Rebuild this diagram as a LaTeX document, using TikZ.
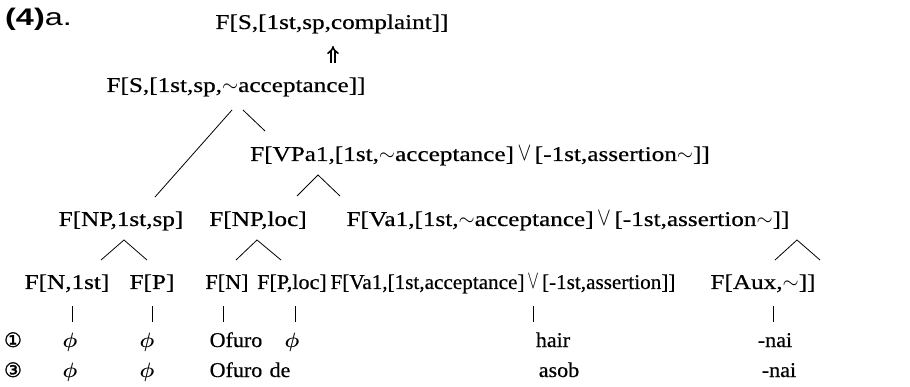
\documentclass[tikz,border=0pt]{standalone}
\usepackage{fontspec}
\usepackage{graphicx}
\setmainfont{Liberation Serif}[FakeStretch=1.2, FakeBold=0.5]
\newfontfamily\wordfont{Liberation Serif}[FakeStretch=1.05, FakeBold=0.5]
\newfontfamily\exfont{Liberation Sans}
\newfontfamily\circfont{DejaVu Sans}[FakeBold=1.5]
\usetikzlibrary{calc,arrows.meta}

% feature notation helpers
\newcommand{\feattilde}{$\sim$}
\newcommand{\featvee}{\,\scalebox{1}[1.25]{$\vee$}\,}
\newcommand{\phisym}{{\boldmath$\phi$}}

\tikzset{
  cat/.style={anchor=base, inner sep=0pt, font=\fontsize{21}{25}\selectfont},
  word/.style={anchor=base, inner sep=0pt, font=\wordfont\fontsize{21}{25}\selectfont},
  circnum/.style={anchor=base, inner sep=0pt, font=\circfont\fontsize{20}{22}\selectfont},
  exlabel/.style={anchor=base west, inner sep=0pt, font=\exfont\fontsize{24}{28}\selectfont},
  branch/.style={line width=0.8pt},
  implication/.style={double, double distance=2.2pt, line width=1.6pt, -{Implies}},
}

\begin{document}
\begin{tikzpicture}[x=1pt,y=-1pt]
\useasboundingbox (0,0) rectangle (910,387);

% example number
\node[exlabel] (ex) at (5,26) {\scalebox{1.35}[1]{\textbf{(4)}a.}};

% categories
\node[cat] (comp)  at (332,29)  {F[S,[1st,sp,complaint]]};
\node[cat] (acc)   at (236,92)  {F[S,[1st,sp,\feattilde acceptance]]};
\node[cat] (vpa)   at (480,161) {F[VPa1,[1st,\feattilde acceptance]\featvee[-1st,assertion\feattilde]]};
\node[cat] (np1)   at (121,226) {F[NP,1st,sp]};
\node[cat] (nploc) at (258,226) {F[NP,loc]};
\node[cat] (va1)   at (568,226) {F[Va1,[1st,\feattilde acceptance]\featvee[-1st,assertion\feattilde]]};
\node[cat] (n1st)  at (67,289)  {F[N,1st]};
\node[cat] (p)     at (152,289) {F[P]};
\node[cat] (n)     at (227,289) {\scalebox{0.88}[1]{F[N]}};
\node[cat] (ploc)  at (292,289) {\scalebox{0.88}[1]{F[P,loc]}};
\node[cat] (va1b)  at (503,289) {\scalebox{0.84}[1]{F[Va1,[1st,acceptance]\featvee[-1st,assertion]]}};
\node[cat] (aux)   at (763,289) {F[Aux,\feattilde]]};

% first realisation
\node[circnum] (ri)  at (13,347)  {①};
\node[word] (wa1) at (70,347)  {\phisym};
\node[word] (wb1) at (147,347) {\phisym};
\node[word] (wc1) at (236,347) {Ofuro};
\node[word] (wd1) at (292,347) {\phisym};
\node[word] (we1) at (553,347) {hair};
\node[word] (wf1) at (775,347) {-nai};

% second realisation
\node[circnum] (riii) at (13,377) {③};
\node[word] (wa3) at (70,377)  {\phisym};
\node[word] (wb3) at (147,377) {\phisym};
\node[word] (wc3) at (236,377) {Ofuro};
\node[word] (wd3) at (280,377) {de};
\node[word] (we3) at (559,377) {asob};
\node[word] (wf3) at (779,377) {-nai};

% implication between the two S nodes
\draw[implication] ($(acc.base)+(97,-29)$) -- ($(comp.base)+(1,17)$);

% branches
\draw[branch] ($(acc.base)+(-4,18)$) -- ($(np1.base)+(34,-29)$);
\draw[branch] ($(acc.base)+(7,18)$) -- ($(vpa.base)+(-215,-30)$);
\draw[branch] ($(nploc.base)+(39,-30)$) -- ($(vpa.base)+(-162,14)$) -- ($(va1.base)+(-228,-30)$);
\draw[branch] ($(n1st.base)+(34,-29)$) -- ($(np1.base)+(3,14)$) -- ($(p.base)+(-5,-29)$);
\draw[branch] ($(n.base)+(9,-29)$) -- ($(nploc.base)+(-1,14)$) -- ($(ploc.base)+(-11,-29)$);
\draw[branch] ($(va1b.base)+(272,-29)$) -- ($(va1.base)+(229,14)$) -- ($(aux.base)+(57,-29)$);

% unary branches to the lexical material
\draw[branch] ($(n1st.base)+(5,17)$) -- ++(0,16);
\draw[branch] ($(p.base)+(0,17)$) -- ++(0,16);
\draw[branch] ($(n.base)+(-4,17)$) -- ++(0,16);
\draw[branch] ($(ploc.base)+(3,17)$) -- ++(0,16);
\draw[branch] ($(va1b.base)+(30,17)$) -- ++(0,16);
\draw[branch] ($(aux.base)+(10,17)$) -- ++(0,16);
\end{tikzpicture}
\end{document}
